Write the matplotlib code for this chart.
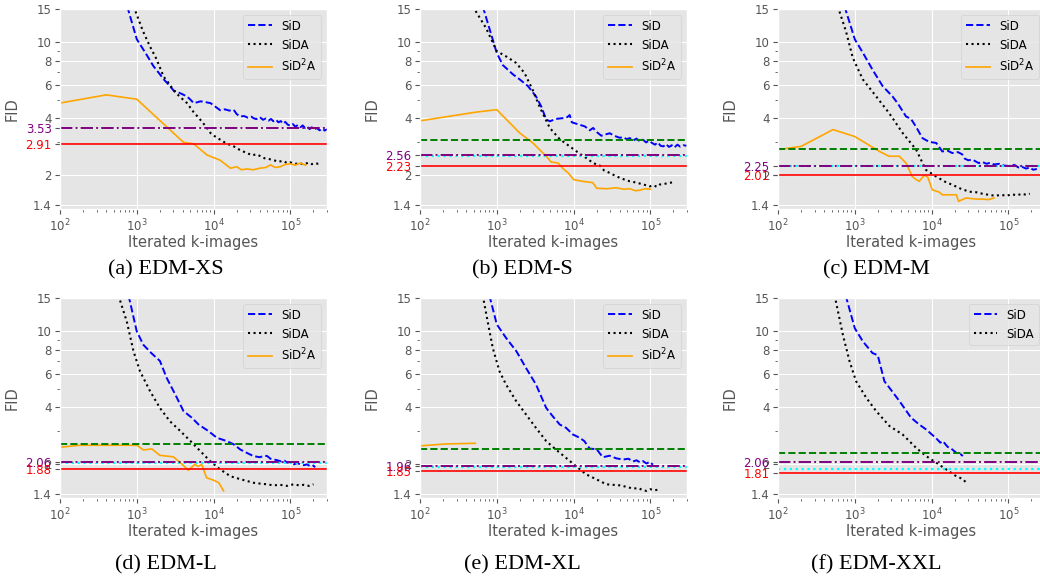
import matplotlib
matplotlib.use('Agg')
import matplotlib.pyplot as plt
from matplotlib.ticker import FixedLocator, NullFormatter

plt.style.use('ggplot')
plt.rcParams['font.family'] = ['DejaVu Sans']

# ---------------- data (FID vs iterated k-images) ----------------
# (a) EDM-XS
a_sid_x = [750, 1000, 1300, 1650, 2000, 2240, 2600, 3000, 3500, 3860,
           4500, 5000, 5500, 6200, 6700, 7500, 8500, 9100, 10500, 12200,
           14000, 16000, 18300, 20000, 22000, 25000, 28000, 31000, 33000, 36000,
           40000, 44000, 48000, 52000, 56000, 60000, 65000, 70000, 75000, 80000,
           86000, 92000, 100000, 108000, 116000, 125000, 135000, 145000, 155000, 165000,
           178000, 190000, 205000, 220000, 240000, 260000, 280000, 300000]
a_sid_y = [15.5, 10.4, 8.8, 7.5, 6.8, 6.4, 6.0, 5.6, 5.45, 5.36,
           5.2, 5.0, 4.8, 4.85, 4.9, 4.88, 4.82, 4.8, 4.6, 4.4,
           4.45, 4.38, 4.42, 4.2, 4.08, 4.1, 4.02, 4.07, 4.0, 3.95,
           4.05, 3.92, 3.98, 3.88, 3.96, 3.85, 3.92, 3.8, 3.86, 3.74,
           3.82, 3.7, 3.65, 3.72, 3.6, 3.68, 3.58, 3.66, 3.55, 3.62,
           3.5, 3.58, 3.47, 3.55, 3.45, 3.52, 3.44, 3.5]
a_sida_x = [906, 1000, 1200, 1490, 1800, 2240, 2700, 3000, 3600, 4500,
            5500, 6700, 8000, 9100, 10500, 12200, 14500, 18300, 22000, 27000,
            32000, 36000, 41000, 46000, 52000, 61000, 70000, 80000, 91000, 100000,
            115000, 135000, 150000, 170000, 190000, 210000, 230000, 250000]
a_sida_y = [15.5, 14.0, 11.5, 9.5, 8.2, 6.6, 6.0, 5.6, 5.2, 4.8,
            4.3, 3.93, 3.6, 3.34, 3.2, 3.08, 2.95, 2.84, 2.72, 2.62,
            2.55, 2.58, 2.52, 2.46, 2.44, 2.4, 2.36, 2.38, 2.32, 2.34,
            2.3, 2.31, 2.28, 2.33, 2.29, 2.32, 2.3, 2.31]
a_sid2a_x = [100, 400, 1000, 4070, 5500, 8200, 12200, 16600, 20000, 23000,
             27000, 33000, 40000, 48000, 55000, 63000, 74000, 85000, 100000, 115000,
             135000, 158000]
a_sid2a_y = [4.8, 5.3, 5.03, 2.98, 2.93, 2.56, 2.4, 2.18, 2.22, 2.14,
             2.16, 2.14, 2.18, 2.2, 2.27, 2.2, 2.22, 2.28, 2.3, 2.26,
             2.32, 2.26]

# (b) EDM-S
b_sid_x = [656, 1000, 1200, 1620, 1980, 2540, 3240, 3800, 4400, 4900,
           5900, 7300, 8300, 8900, 9500, 12000, 14000, 16200, 18000, 20000,
           23000, 26000, 29500, 33000, 36000, 40000, 44000, 49000, 54000, 60000,
           66000, 73000, 80000, 88000, 96000, 105000, 115000, 125000, 136000, 148000,
           160000, 175000, 190000, 205000, 225000, 245000, 270000, 295000]
b_sid_y = [15.5, 8.8, 7.6, 6.8, 6.4, 5.9, 5.2, 4.6, 3.93, 3.85,
           3.96, 4.0, 4.05, 4.15, 3.8, 3.69, 3.62, 3.45, 3.55, 3.38,
           3.23, 3.28, 3.33, 3.25, 3.2, 3.15, 3.18, 3.1, 3.14, 3.05,
           3.12, 3.02, 3.08, 2.98, 3.04, 2.96, 2.9, 2.98, 2.86, 2.84,
           2.92, 2.82, 2.88, 2.8, 2.9, 2.83, 2.88, 2.86]
b_sida_x = [486, 725, 1000, 1320, 1790, 2300, 2950, 3600, 4900, 6600,
            8900, 12000, 15000, 18000, 22000, 25000, 29500, 34000, 40000, 46000,
            54000, 62000, 73000, 85000, 98000, 110000, 122000, 133000, 150000, 170000,
            200000]
b_sida_y = [15.5, 11.9, 9.0, 8.45, 7.8, 6.9, 5.6, 4.6, 3.55, 3.1,
            2.84, 2.6, 2.45, 2.32, 2.25, 2.12, 2.06, 2.0, 1.94, 1.9,
            1.86, 1.84, 1.81, 1.78, 1.75, 1.77, 1.74, 1.79, 1.8, 1.82,
            1.84]
b_sid2a_x = [100, 537, 1000, 1990, 2950, 4400, 5100, 6300, 7200, 8500,
             10000, 13000, 17800, 20000, 27000, 36000, 45000, 54000, 64000, 73000,
             85000, 100000]
b_sid2a_y = [3.87, 4.3, 4.43, 3.34, 2.96, 2.52, 2.35, 2.32, 2.18, 2.06,
             1.9, 1.86, 1.83, 1.71, 1.7, 1.72, 1.69, 1.7, 1.66, 1.67,
             1.7, 1.69]

# (c) EDM-M
c_sid_x = [735, 1000, 1280, 1700, 2300, 3100, 3600, 4650, 5400, 6300,
           7600, 9300, 11500, 13800, 16000, 18600, 22000, 25000, 27000, 30000,
           34000, 38000, 41000, 46000, 52000, 58000, 65000, 76000, 88000, 103000,
           120000, 135000, 150000, 170000, 190000, 210000, 235000]
c_sid_y = [15.5, 10.4, 8.8, 7.2, 5.9, 5.2, 4.8, 4.08, 3.96, 3.59,
           3.14, 3.0, 2.96, 2.67, 2.7, 2.62, 2.65, 2.58, 2.45, 2.4,
           2.42, 2.36, 2.32, 2.35, 2.3, 2.33, 2.28, 2.3, 2.25, 2.24,
           2.27, 2.2, 2.22, 2.17, 2.2, 2.14, 2.16]
c_sida_x = [600, 770, 942, 1270, 1900, 2800, 4200, 6300, 8400, 11500,
            15000, 18800, 24000, 31000, 38000, 46000, 55000, 68000, 80000, 95000,
            110000, 130000, 150000, 170000, 190000]
c_sida_y = [15.5, 11.4, 8.3, 6.4, 5.2, 4.25, 3.34, 2.73, 2.14, 1.97,
            1.85, 1.78, 1.7, 1.64, 1.63, 1.6, 1.58, 1.56, 1.58, 1.56,
            1.59, 1.57, 1.6, 1.58, 1.6]
c_sid2a_x = [100, 200, 520, 1000, 2100, 2800, 3800, 4650, 5600, 6300,
             6900, 8000, 8900, 10200, 12600, 13800, 17000, 21000, 22500, 28000,
             38000, 46000, 55000, 65000]
c_sid2a_y = [2.73, 2.84, 3.48, 3.2, 2.67, 2.52, 2.52, 2.32, 1.97, 1.9,
             1.86, 2.0, 1.96, 1.68, 1.63, 1.58, 1.58, 1.58, 1.46, 1.52,
             1.5, 1.5, 1.49, 1.52]

# (d) EDM-L
d_sid_x = [780, 1000, 1220, 1570, 2000, 2450, 3170, 4060, 5200, 6370,
           8600, 11000, 14900, 18200, 22400, 27000, 33000, 40000, 46000, 50000,
           55000, 61000, 68000, 76000, 84000, 91000, 100000, 112000, 123000, 135000,
           150000, 165000, 182000, 200000, 210000]
d_sid_y = [15.5, 10.0, 8.5, 7.65, 7.0, 5.7, 4.66, 3.81, 3.52, 3.24,
           2.99, 2.76, 2.65, 2.55, 2.39, 2.3, 2.21, 2.18, 2.22, 2.21,
           2.14, 2.12, 2.1, 2.07, 2.09, 2.04, 2.06, 2.0, 2.03, 2.0,
           1.98, 2.0, 1.95, 1.97, 1.93]
d_sida_x = [576, 740, 906, 1100, 1490, 2000, 2700, 3700, 5000, 6700,
            9000, 12200, 16600, 22400, 33000, 42000, 50000, 60000, 74000, 90000,
            110000, 130000, 150000, 175000, 200000]
d_sida_y = [15.5, 11.3, 7.87, 6.18, 4.85, 3.96, 3.37, 2.99, 2.65, 2.35,
            2.08, 1.88, 1.73, 1.67, 1.6, 1.58, 1.57, 1.55, 1.56, 1.54,
            1.57, 1.55, 1.56, 1.54, 1.57]
d_sid2a_x = [100, 182, 1000, 1220, 1570, 2000, 3000, 3900, 4700, 5700,
             6300, 7000, 8100, 10000, 11700, 13500]
d_sid2a_y = [2.46, 2.52, 2.52, 2.38, 2.41, 2.23, 2.19, 2.0, 1.86, 2.0,
             1.95, 2.0, 1.7, 1.65, 1.6, 1.45]

# (e) EDM-XL
e_sid_x = [800, 1000, 1320, 1800, 2400, 3240, 4400, 5350, 6600, 8000,
           9800, 12000, 13800, 16200, 20000, 24000, 29500, 36000, 44000, 52000,
           59000, 66000, 73000, 80000, 89000, 98000, 108000]
e_sid_y = [15.5, 10.9, 9.25, 7.87, 6.43, 5.26, 3.96, 3.58, 3.24, 3.11,
           2.87, 2.76, 2.65, 2.42, 2.4, 2.18, 2.22, 2.15, 2.12, 2.14,
           2.07, 2.1, 2.05, 2.08, 2.02, 2.06, 1.99]
e_sida_x = [656, 760, 887, 1085, 1320, 1790, 2400, 3240, 4400, 5900,
            8000, 10700, 14600, 19700, 26700, 40000, 50000, 59000, 70000, 80000,
            89000, 100000, 112000, 125000]
e_sida_y = [15.5, 11.3, 8.18, 6.17, 5.26, 4.3, 3.66, 3.11, 2.65, 2.39,
            2.16, 1.96, 1.77, 1.67, 1.57, 1.55, 1.52, 1.49, 1.5, 1.46,
            1.45, 1.48, 1.46, 1.47]
e_sid2a_x = [100, 218, 525]
e_sid2a_y = [2.5, 2.56, 2.58]

# (f) EDM-XXL (no SiD2A run)
f_sid_x = [760, 1000, 1270, 1700, 1990, 2430, 2830, 3820, 5400, 6900,
           8500, 11500, 13000, 14000, 16200, 18000, 21000, 24000, 25500]
f_sid_y = [15.5, 10.4, 8.88, 7.7, 7.5, 5.47, 5.05, 4.3, 3.52, 3.24,
           3.05, 2.74, 2.6, 2.65, 2.47, 2.42, 2.3, 2.26, 2.21]
f_sida_x = [546, 700, 855, 1040, 1410, 1900, 2830, 4200, 6300, 8500,
            11500, 15500, 21000, 25000, 28500]
f_sida_y = [15.5, 9.6, 6.97, 5.47, 4.48, 3.81, 3.18, 2.87, 2.44, 2.21,
            2.04, 1.88, 1.73, 1.68, 1.6]

# reference FID lines per panel
purple_fid = [3.53, 2.56, 2.25, 2.06, 1.96, 2.06]
red_fid = [2.91, 2.23, 2.01, 1.88, 1.85, 1.81]
green_fid = [None, 3.08, 2.76, 2.56, 2.42, 2.30]
cyan_fid = [None, 2.52, 2.24, 2.03, 1.93, 1.90]

captions = ['(a) EDM-XS', '(b) EDM-S', '(c) EDM-M',
            '(d) EDM-L', '(e) EDM-XL', '(f) EDM-XXL']

major_y = [1.4, 2, 4, 6, 8, 10, 15]
minor_y = [3, 5, 7, 9]

panels = [
    ((a_sid_x, a_sid_y), (a_sida_x, a_sida_y), (a_sid2a_x, a_sid2a_y)),
    ((b_sid_x, b_sid_y), (b_sida_x, b_sida_y), (b_sid2a_x, b_sid2a_y)),
    ((c_sid_x, c_sid_y), (c_sida_x, c_sida_y), (c_sid2a_x, c_sid2a_y)),
    ((d_sid_x, d_sid_y), (d_sida_x, d_sida_y), (d_sid2a_x, d_sid2a_y)),
    ((e_sid_x, e_sid_y), (e_sida_x, e_sida_y), (e_sid2a_x, e_sid2a_y)),
    ((f_sid_x, f_sid_y), (f_sida_x, f_sida_y), None),
]

W, H = 1040, 580
fig = plt.figure(figsize=(10.4, 5.8), dpi=100)

col_left = [60, 420, 778]
row_top = [9, 298]
ax_w, ax_h = 267, 200
cap_x = [166, 522, 876]
cap_y = [270, 565]

for i, (sid, sida, sid2a) in enumerate(panels):
    r, c = divmod(i, 3)
    ax = fig.add_axes([col_left[c] / W, 1 - (row_top[r] + ax_h) / H, ax_w / W, ax_h / H])

    ax.plot(sid[0], sid[1], '--', color='blue', lw=1.4, label='SiD')
    ax.plot(sida[0], sida[1], ':', color='black', lw=1.5, label='SiDA')
    if sid2a is not None:
        ax.plot(sid2a[0], sid2a[1], '-', color='orange', lw=1.2, label='SiD$^2$A')

    if green_fid[i] is not None:
        ax.axhline(green_fid[i], color='green', ls='--', lw=1.4)
    if cyan_fid[i] is not None:
        ax.axhline(cyan_fid[i], color='cyan', ls=':', lw=1.6)
    ax.axhline(purple_fid[i], color='purple', ls='-.', lw=1.4)
    ax.axhline(red_fid[i], color='red', ls='-', lw=1.2)

    ax.set_xscale('log')
    ax.set_yscale('log')
    ax.set_xlim(100, 3e5)
    ax.set_ylim(1.33, 15)

    ticks = major_y + [purple_fid[i], red_fid[i]]
    labels = [f'{v:g}' for v in major_y] + [f'{purple_fid[i]:.2f}', f'{red_fid[i]:.2f}']
    ax.set_yticks(ticks)
    ax.set_yticklabels(labels)
    ax.yaxis.set_minor_locator(FixedLocator(minor_y))
    ax.yaxis.set_minor_formatter(NullFormatter())
    tl = ax.get_yticklabels()
    tl[-2].set_color('purple')
    tl[-1].set_color('red')

    ax.tick_params(axis='both', which='major', labelsize=8.5, pad=2.5)
    ax.set_xlabel('Iterated k-images', fontsize=10.5, labelpad=1)
    ax.set_ylabel('FID', fontsize=10.5)
    ax.legend(loc='upper right', fontsize=8.5)

    fig.text(cap_x[c] / W, 1 - cap_y[r] / H, captions[i], ha='center', va='center',
             fontsize=16, family='Liberation Serif', color='black')

fig.savefig('out.png', dpi=100)
